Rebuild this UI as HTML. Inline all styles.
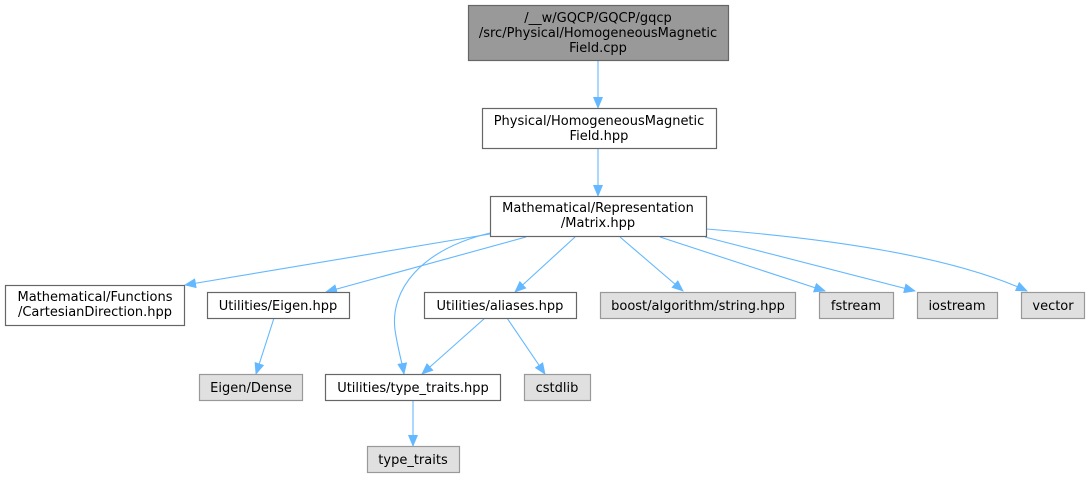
<!DOCTYPE html>
<html><head><meta charset="utf-8"><style>
html,body{margin:0;padding:0;background:#fff;}
svg text{font-family:"DejaVu Sans","Liberation Sans",sans-serif;font-size:13px;fill:#000;}
</style></head><body>
<svg width="1090" height="476" viewBox="0 0 1090 476" xmlns="http://www.w3.org/2000/svg">
<defs>
<marker id="a" markerWidth="12" markerHeight="10" refX="11" refY="5" orient="auto" markerUnits="userSpaceOnUse">
<path d="M0,0 L12,5 L0,10 Z" fill="#63b8ff"/>
</marker>
</defs>
<g fill="none" stroke="#63b8ff" stroke-width="1.1" marker-end="url(#a)">
<path d="M598,60 L598,108"/>
<path d="M598,148 L598,196"/>
<path d="M490,234 L185,285"/>
<path d="M526,237 L326,292"/>
<path d="M490,233 C420,250 390,290 395,330 C398,350 402,362 404,374"/>
<path d="M575,237 L515,292"/>
<path d="M620,237 L683,291"/>
<path d="M660,237 L825,291"/>
<path d="M705,237 L915,291"/>
<path d="M706,229 C850,240 960,260 1027,291"/>
<path d="M274,318 L256,374"/>
<path d="M485,318 L422,374"/>
<path d="M507,318 L545,374"/>
<path d="M413,400 L413,446"/>
</g>
<g stroke-width="1.2">
<rect x="468.5" y="5.5" width="260" height="55" fill="#999999" stroke="#666"/>
<rect x="482.5" y="108.5" width="234" height="40" fill="#fff" stroke="#666"/>
<rect x="490.5" y="196.5" width="216" height="40" fill="#fff" stroke="#666"/>
<rect x="5.5" y="285.5" width="179" height="40" fill="#fff" stroke="#666"/>
<rect x="207.5" y="292.5" width="142" height="26" fill="#fff" stroke="#666"/>
<rect x="424.5" y="292.5" width="152" height="26" fill="#fff" stroke="#666"/>
<rect x="600.5" y="292.5" width="195" height="26" fill="#e0e0e0" stroke="#999"/>
<rect x="819.5" y="292.5" width="74" height="26" fill="#e0e0e0" stroke="#999"/>
<rect x="917.5" y="292.5" width="80" height="26" fill="#e0e0e0" stroke="#999"/>
<rect x="1021.5" y="292.5" width="63" height="26" fill="#e0e0e0" stroke="#999"/>
<rect x="199.5" y="374.5" width="103" height="26" fill="#e0e0e0" stroke="#999"/>
<rect x="325.5" y="374.5" width="175" height="26" fill="#fff" stroke="#666"/>
<rect x="524.5" y="374.5" width="66" height="26" fill="#e0e0e0" stroke="#999"/>
<rect x="367.5" y="446.5" width="92" height="26" fill="#e0e0e0" stroke="#999"/>
</g>
<g text-anchor="middle">
<text x="598" y="22">/__w/GQCP/GQCP/gqcp</text>
<text x="598" y="37">/src/Physical/HomogeneousMagnetic</text>
<text x="598" y="52">Field.cpp</text>
<text x="599" y="125">Physical/HomogeneousMagnetic</text>
<text x="599" y="140">Field.hpp</text>
<text x="598" y="212">Mathematical/Representation</text>
<text x="598" y="227">/Matrix.hpp</text>
<text x="95" y="301">Mathematical/Functions</text>
<text x="95" y="316">/CartesianDirection.hpp</text>
<text x="278" y="310">Utilities/Eigen.hpp</text>
<text x="500" y="310">Utilities/aliases.hpp</text>
<text x="698" y="310">boost/algorithm/string.hpp</text>
<text x="856" y="310">fstream</text>
<text x="957" y="310">iostream</text>
<text x="1053" y="310">vector</text>
<text x="251" y="392">Eigen/Dense</text>
<text x="413" y="392">Utilities/type_traits.hpp</text>
<text x="557" y="392">cstdlib</text>
<text x="413" y="464">type_traits</text>
</g>
</svg>
</body></html>
